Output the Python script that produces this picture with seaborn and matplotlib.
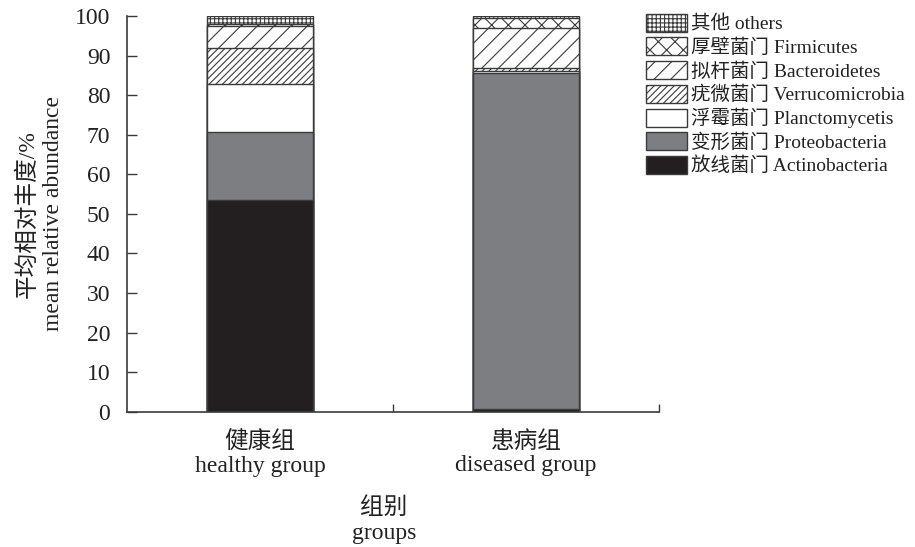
import numpy as np
import pandas as pd
import matplotlib
matplotlib.use("Agg")
import matplotlib.pyplot as plt
import seaborn as sns
from matplotlib.patches import Patch

# ---- data ----
groups = ["健康组\nhealthy group", "患病组\ndiseased group"]
phyla = ["放线菌门 Actinobacteria", "变形菌门 Proteobacteria", "浮霉菌门 Planctomycetis",
         "疣微菌门 Verrucomicrobia", "拟杆菌门 Bacteroidetes", "厚壁菌门 Firmicutes", "其他 others"]
actinobacteria = [53.5, 0.8]
proteobacteria = [17.3, 84.9]
planctomycetis = [12.0, 0.3]
verrucomicrobia = [9.2, 0.8]
bacteroidetes = [5.5, 10.1]
firmicutes = [0.5, 2.5]
others = [2.0, 0.6]
y_ticks = [0, 10, 20, 30, 40, 50, 60, 70, 80, 90, 100]

# ---- styles ----
facecolors = ["#231f20", "#7d7e82", "white", "white", "white", "white", "white"]
hatches = [None, None, None, "/////", "//", "xx", "++++"]
edge = "#3a3a3a"
txt = "#222222"

sns.set_style("ticks")
plt.rcParams["font.family"] = ["Liberation Serif", "Noto Sans CJK SC"]
plt.rcParams["hatch.linewidth"] = 0.8
plt.rcParams["axes.unicode_minus"] = False

layers = np.array([actinobacteria, proteobacteria, planctomycetis, verrucomicrobia,
                   bacteroidetes, firmicutes, others])
cum = np.cumsum(layers, axis=0)

fig = plt.figure(figsize=(9.15, 5.47), dpi=100)
ax = fig.add_axes([127 / 915, 1 - 411.7 / 547, 532 / 915, (411.7 - 16) / 547])

# draw from top layer down so lower layers overlay
for i in range(len(phyla) - 1, -1, -1):
    df = pd.DataFrame({"group": groups, "value": cum[i]})
    sns.barplot(data=df, x="group", y="value", order=groups, color=facecolors[i],
                saturation=1, width=0.4, edgecolor=edge, linewidth=1.0,
                hatch=hatches[i], errorbar=None, ax=ax)

ax.set_ylim(0, 100)
ax.set_xlim(-0.5, 1.5)
ax.set_yticks(y_ticks)
ax.set_yticklabels([str(t) for t in y_ticks])
ax.set_xticks([0, 1])
ax.set_xticklabels(groups, linespacing=1.15)
ax.set_xticks([0.5, 1.5], minor=True)
ax.tick_params(axis="x", which="major", length=0, pad=14, labelsize=17, colors=txt)
ax.tick_params(axis="x", which="minor", direction="in", length=6, width=1.0, color=edge)
ax.tick_params(axis="y", which="major", direction="in", length=7, width=1.0, color=edge,
               labelsize=17, labelcolor=txt, pad=12)
for s in ["top", "right"]:
    ax.spines[s].set_visible(False)
for s in ["left", "bottom"]:
    ax.spines[s].set_color(edge)
    ax.spines[s].set_linewidth(1.2)

ax.set_ylabel("平均相对丰度/%\nmean relative abundance", fontsize=17, color=txt,
              linespacing=1.3)
ax.yaxis.set_label_coords((64 - 127) / 532, 0.5)
ax.set_xlabel("组别\ngroups", fontsize=17, color=txt, linespacing=1.25)
ax.xaxis.set_label_coords((384 - 127) / 532, (411.7 - 497) / 395.7)

handles = [Patch(facecolor=facecolors[i], edgecolor=edge, hatch=hatches[i], linewidth=1.0,
                 label=phyla[i]) for i in range(len(phyla) - 1, -1, -1)]
fig.legend(handles=handles, loc="upper left", bbox_to_anchor=(642 / 915, 1 - 10 / 547),
           frameon=False, fontsize=14, handlelength=2.1, handleheight=1.05,
           labelspacing=0.2, handletextpad=0.2, borderaxespad=0, borderpad=0.2,
           labelcolor=txt)

fig.savefig("out.png", dpi=100)
